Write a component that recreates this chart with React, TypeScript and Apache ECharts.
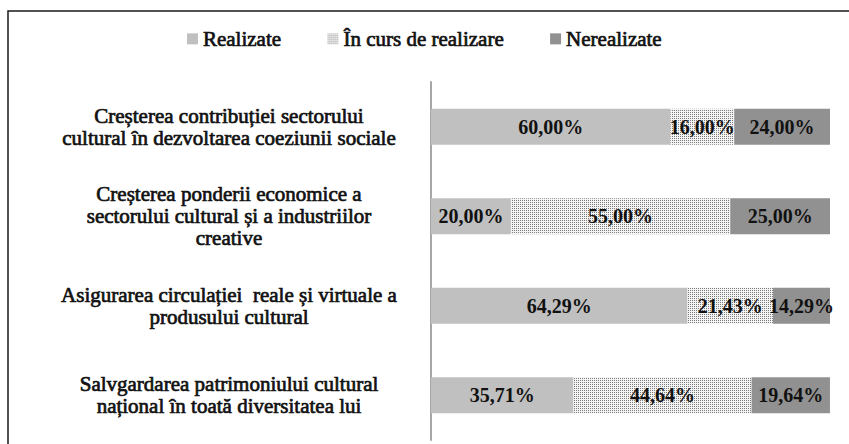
import React, { useEffect, useRef } from "react";
import * as echarts from "echarts";

const categories = [
  "Creșterea contribuției sectorului\ncultural în dezvoltarea coeziunii sociale",
  "Creșterea ponderii economice a\nsectorului cultural și a industriilor\ncreative",
  "Asigurarea circulației  reale și virtuale a\nprodusului cultural",
  "Salvgardarea patrimoniului cultural\nnațional în toată diversitatea lui",
];
const seriesNames = ["Realizate", "În curs de realizare", "Nerealizate"];
const realizate = [60.0, 20.0, 64.29, 35.71];
const inCurs = [16.0, 55.0, 21.43, 44.64];
const nerealizate = [24.0, 25.0, 14.29, 19.64];

const FONT = "Liberation Serif";

export default function App() {
  const ref = useRef<HTMLDivElement>(null);
  useEffect(() => {
    if (!ref.current) return;
    const chart = echarts.init(ref.current, null, { renderer: "svg" });

    const cv = document.createElement("canvas");
    cv.width = 2;
    cv.height = 2;
    const ctx = cv.getContext("2d")!;
    ctx.fillStyle = "#f4f4f4";
    ctx.fillRect(0, 0, 2, 2);
    ctx.fillStyle = "#7c7c7c";
    ctx.fillRect(0, 0, 1, 1);
    const dotted: any = { image: cv, repeat: "repeat" };

    const fmt = (p: any) => Number(p.value).toFixed(2).replace(".", ",") + "%";
    const labelCfg = {
      show: true,
      position: "inside",
      formatter: fmt,
      color: "#111",
      fontFamily: FONT,
      fontWeight: "bold",
      fontSize: 20,
    };
    const mk = (name: string, data: number[], color: any) => ({
      name,
      type: "bar",
      stack: "total",
      data,
      barWidth: 36,
      itemStyle: { color },
      label: labelCfg,
      emphasis: { disabled: true },
    });

    chart.setOption({
      animation: false,
      backgroundColor: "#fff",
      legend: {
        top: 23,
        left: "center",
        itemWidth: 11,
        itemHeight: 11,
        itemGap: 46,
        icon: "rect",
        textStyle: {
          fontFamily: FONT,
          fontWeight: "normal",
          fontSize: 21,
          color: "#111",
          textBorderColor: "#111",
          textBorderWidth: 0.7,
        },
        data: seriesNames,
      },
      grid: { left: 431, right: 19, top: 82, bottom: 4, outerBoundsMode: "none" },
      xAxis: {
        type: "value",
        min: 0,
        max: 100,
        show: false,
      },
      yAxis: {
        type: "category",
        inverse: true,
        data: categories,
        axisLine: { show: true, lineStyle: { color: "#a6a6a6", width: 2 } },
        axisTick: { show: false },
        axisLabel: {
          margin: 202,
          align: "center",
          fontFamily: FONT,
          fontWeight: "normal",
          fontSize: 21,
          lineHeight: 22,
          color: "#111",
          textBorderColor: "#111",
          textBorderWidth: 0.7,
        },
      },
      graphic: [
        {
          type: "rect",
          shape: { x: 8, y: 11, width: 1000, height: 1000 },
          style: { fill: "none", stroke: "#1a1a1a", lineWidth: 1.5 },
          silent: true,
        },
      ],
      series: [
        mk(seriesNames[0], realizate, "#c0c0c0"),
        mk(seriesNames[1], inCurs, dotted),
        mk(seriesNames[2], nerealizate, "#919191"),
      ],
    });
    return () => chart.dispose();
  }, []);
  return (
    <div
      ref={ref}
      style={{ position: "absolute", left: 0, top: 0, width: 849, height: 444 }}
    />
  );
}
